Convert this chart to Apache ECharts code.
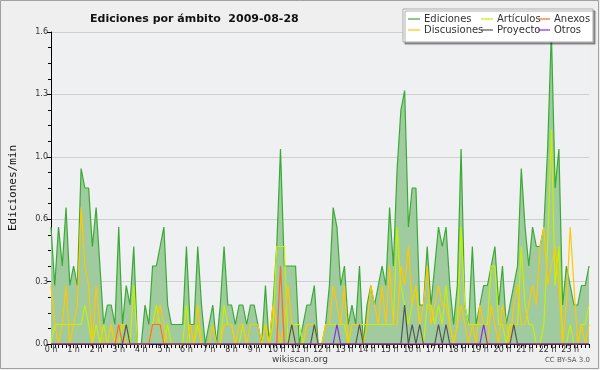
<!DOCTYPE html>
<html><head><meta charset="utf-8">
<script src="https://cdn.jsdelivr.net/npm/echarts@6/dist/echarts.min.js"></script>
<style>html,body{margin:0;padding:0;background:#efefef}#c{width:600px;height:370px}</style>
</head><body><div id="c"></div><script>
// tick labels (one per hour)
const hourLabels = ['0 h','1 h','2 h','3 h','4 h','5 h','6 h','7 h','8 h','9 h','10 h','11 h','12 h','13 h','14 h','15 h','16 h','17 h','18 h','19 h','20 h','21 h','22 h','23 h'];
const yTicks = [0, 0.32, 0.64, 0.96, 1.28, 1.6];
// 10-minute slots
const categories = [];
for (let h = 0; h < 24; h++) for (let m = 0; m < 60; m += 10) categories.push(h + ':' + (m < 10 ? '0' : '') + m);

const ediciones = [
0.6,0.3,0.6,0.4,0.7,0.3,0.4,0.3,0.9,0.8,0.8,0.5,
0.7,0.4,0.1,0.2,0.2,0.1,0.6,0.1,0.3,0.2,0.5,0.0,
0.0,0.2,0.1,0.4,0.4,0.5,0.6,0.2,0.1,0.1,0.1,0.1,
0.5,0.1,0.1,0.5,0.2,0.0,0.1,0.2,0.0,0.2,0.5,0.2,
0.2,0.1,0.2,0.2,0.1,0.2,0.2,0.1,0.0,0.3,0.0,0.2,
0.5,1.0,0.4,0.4,0.4,0.4,0.0,0.1,0.2,0.2,0.3,0.0,
0.0,0.1,0.3,0.7,0.6,0.3,0.4,0.1,0.2,0.1,0.4,0.0,
0.2,0.3,0.2,0.3,0.4,0.3,0.7,0.4,0.9,1.2,1.3,0.6,
0.8,0.8,0.2,0.2,0.5,0.2,0.4,0.6,0.5,0.6,0.3,0.1,
0.3,1.0,0.2,0.1,0.5,0.1,0.2,0.3,0.3,0.4,0.5,0.2,
0.4,0.1,0.2,0.3,0.4,0.9,0.6,0.4,0.6,0.5,0.5,0.6,
1.0,1.6,0.8,1.0,0.2,0.4,0.3,0.2,0.2,0.3,0.3,0.4];
const articulos = [
0.0,0.1,0.1,0.1,0.1,0.1,0.1,0.1,0.1,0.2,0.1,0.0,
0.1,0.0,0.1,0.0,0.1,0.0,0.0,0.1,0.1,0.0,0.3,0.0,
0.0,0.0,0.0,0.1,0.2,0.1,0.0,0.1,0.0,0.0,0.0,0.0,
0.2,0.0,0.0,0.1,0.0,0.0,0.0,0.0,0.0,0.0,0.2,0.1,
0.1,0.0,0.0,0.1,0.0,0.0,0.0,0.0,0.0,0.1,0.0,0.1,
0.5,0.5,0.5,0.0,0.1,0.1,0.1,0.0,0.1,0.1,0.1,0.0,
0.0,0.1,0.1,0.1,0.1,0.1,0.1,0.0,0.1,0.1,0.1,0.1,
0.1,0.1,0.1,0.1,0.1,0.1,0.1,0.1,0.6,0.3,0.2,0.1,
0.2,0.3,0.1,0.0,0.2,0.2,0.1,0.2,0.1,0.3,0.1,0.0,
0.1,0.6,0.2,0.1,0.1,0.1,0.1,0.1,0.1,0.4,0.4,0.1,
0.1,0.0,0.1,0.1,0.1,0.5,0.2,0.1,0.1,0.0,0.0,0.1,
0.5,1.1,0.3,0.5,0.0,0.0,0.1,0.0,0.0,0.1,0.1,0.2];
const anexos = [
0,0,0,0,0,0,0,0,0,0,0,0,
0,0,0,0,0,0,0.1,0,0,0,0,0,
0,0,0,0.1,0.1,0.1,0,0,0,0,0,0,
0,0,0,0,0,0,0,0,0,0,0,0,
0,0,0,0,0,0,0,0,0,0,0,0,
0,0.4,0,0,0,0,0,0,0,0,0,0,
0,0,0,0,0,0,0,0,0,0,0,0,
0,0,0,0,0,0,0,0,0,0,0,0,
0,0,0,0,0,0,0,0,0,0,0,0,
0,0,0,0,0,0,0,0,0,0,0,0,
0,0,0,0,0,0,0,0,0,0,0,0,
0,0,0,0,0,0,0,0,0,0,0,0];
const discusiones = [
0.3,0.1,0.0,0.1,0.3,0.0,0.1,0.2,0.7,0.4,0.3,0.0,
0.3,0.1,0.0,0.0,0.1,0.0,0.1,0.1,0.0,0.0,0.0,0.0,
0.0,0.0,0.0,0.1,0.1,0.2,0.1,0.0,0.0,0.0,0.0,0.0,
0.0,0.1,0.0,0.2,0.0,0.0,0.0,0.1,0.0,0.0,0.1,0.1,
0.1,0.0,0.1,0.1,0.0,0.1,0.1,0.1,0.0,0.1,0.0,0.2,
0.1,0.0,0.1,0.3,0.1,0.0,0.0,0.0,0.1,0.1,0.1,0.0,
0.0,0.1,0.1,0.3,0.2,0.1,0.3,0.0,0.1,0.1,0.1,0.0,
0.1,0.3,0.2,0.1,0.3,0.1,0.4,0.1,0.1,0.4,0.3,0.5,
0.2,0.3,0.1,0.2,0.4,0.1,0.2,0.3,0.2,0.2,0.1,0.0,
0.1,0.2,0.1,0.0,0.1,0.0,0.2,0.1,0.0,0.2,0.1,0.0,
0.2,0.1,0.0,0.2,0.3,0.1,0.1,0.2,0.3,0.2,0.5,0.6,
0.3,0.4,0.5,0.3,0.0,0.2,0.6,0.3,0.0,0.1,0.0,0.1];
const proyecto = [
0,0,0,0,0,0,0,0,0,0,0,0,
0,0,0,0,0,0,0,0,0.1,0,0,0,
0,0,0,0,0,0,0,0,0,0,0,0,
0,0,0,0,0,0,0,0,0,0,0,0,
0,0,0,0,0,0,0,0,0,0,0,0,
0,0,0,0,0.1,0,0,0,0,0,0.1,0,
0,0,0,0,0,0,0,0,0,0,0.1,0,
0,0,0,0,0,0,0,0,0,0,0.2,0,
0.1,0,0.1,0,0,0,0,0.1,0,0.1,0,0,
0,0,0,0,0,0,0,0,0,0,0,0,
0,0,0,0.1,0,0,0,0,0,0,0,0,
0,0,0,0,0,0,0,0,0,0,0,0];
const otros = [
0,0,0,0,0,0,0,0,0,0,0,0,
0,0,0,0,0,0,0,0,0,0,0,0,
0,0,0,0,0,0,0,0,0,0,0,0,
0,0,0,0,0,0,0,0,0,0,0,0,
0,0,0,0,0,0,0,0,0,0,0,0,
0,0,0,0,0,0,0,0,0,0,0,0,
0,0,0,0,0.1,0,0,0,0,0,0,0,
0,0,0,0,0,0,0,0,0,0,0,0,
0,0,0,0,0,0,0,0,0,0,0,0,
0,0,0,0,0,0,0,0.1,0,0,0,0,
0,0,0,0,0,0,0,0,0,0,0,0,
0,0,0,0,0,0,0,0,0,0,0,0];

const names = ['Ediciones','Artículos','Anexos','Discusiones','Proyecto','Otros'];
const colors = ['#3aaa35','#c8f000','#ff6a26','#ffc800','#555555','#8a2be2'];
const seriesData = [ediciones, articulos, anexos, discusiones, proyecto, otros];

const chart = echarts.init(document.getElementById('c'), null, {renderer:'canvas'});
const font = 'DejaVu Sans';
const legendPos = [[408,14],[481,14],[538,14],[408,25],[481,25],[538,25]];
const legends = names.map((n,k) => ({
  data:[n], left: legendPos[k][0], top: legendPos[k][1], orient:'horizontal', z:100,
  icon:'rect', itemWidth:12, itemHeight:1.2, itemGap:4, padding:0,
  textStyle:{fontFamily:font, fontSize:10, color:'#333', padding:[0,0,0,-1]},
  selectedMode:false
}));
const order = [0,1,3,2,4,5];
chart.setOption({
  animation:false,
  backgroundColor:'#efefef',
  title:{text:'Ediciones por ámbito  2009-08-28', left:85, top:9,
    textStyle:{fontFamily:font, fontSize:11, fontWeight:'bold', color:'#111'}},
  legend: legends,
  grid:{left:46, right:11, top:32, bottom:26, show:true, backgroundColor:'#eef0f2', borderWidth:0},
  xAxis:{type:'category', data:categories, boundaryGap:false,
    axisLine:{lineStyle:{color:'#000', width:1}},
    axisTick:{interval:0, length:4, lineStyle:{color:'#000'}},
    axisLabel:{interval:(i)=> i % 6 === 0, formatter:(v,i)=> hourLabels[Math.floor(i/6)],
      fontFamily:font, fontSize:8, color:'#333', margin:2},
    splitLine:{show:false}},
  yAxis:{type:'value', min:0, max:1.6, interval:0.32,
    name:'Ediciones/min', nameLocation:'middle', nameGap:32,
    nameTextStyle:{fontFamily:'DejaVu Sans Mono', fontSize:11, color:'#111'},
    axisLine:{show:true, lineStyle:{color:'#000', width:1}},
    axisTick:{show:true, length:4, lineStyle:{color:'#000'}},
    minorTick:{show:true, splitNumber:4, length:3, lineStyle:{color:'#000'}},
    axisLabel:{formatter:(v)=> v.toFixed(1), fontFamily:font, fontSize:8, color:'#333', margin:3},
    splitLine:{show:true, lineStyle:{color:'#cfcfcf', width:1}}},
  graphic:[
    {type:'rect', shape:{x:0.5,y:0.5,width:598,height:368}, style:{fill:null, stroke:'#a0a0a0', lineWidth:1}, z:-1, silent:true},
    {type:'rect', shape:{x:403,y:9,width:190,height:33}, style:{fill:'#ffffff', stroke:'#aaaaaa', lineWidth:1, shadowColor:'rgba(0,0,0,0.35)', shadowOffsetX:2, shadowOffsetY:2, shadowBlur:1}, z:50, silent:true},
    {type:'text', left:'center', top:355, style:{text:'wikiscan.org', fontFamily:font, fontSize:9, fill:'#444'}, z:60},
    {type:'text', right:10, top:357, style:{text:'CC BY-SA 3.0', fontFamily:font, fontSize:7, fill:'#555'}, z:60}
  ],
  series: order.map(k => ({
    name:names[k], type:'line', data:seriesData[k], symbol:'none', smooth:false,
    color:colors[k],
    lineStyle:{color:colors[k], width:1.2},
    areaStyle: k===0 ? {color:'#9fcb9f', opacity:1} : undefined,
    z: k===0 ? 2 : 3
  }))
});
</script></body></html>
